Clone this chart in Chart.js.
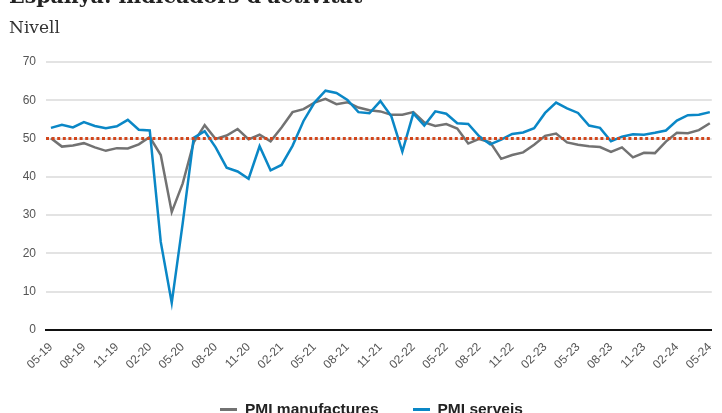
<!DOCTYPE html>
<html>
<head>
<meta charset="utf-8">
<script src="https://cdn.jsdelivr.net/npm/chart.js@4"></script>
<style>
  html, body { margin: 0; padding: 0; background: #fff; overflow: hidden; }
  #wrap { position: relative; width: 722px; height: 413px; overflow: hidden; }
  #title { position: absolute; left: 9px; top: -14px; font: bold 20.5px 'DejaVu Serif', serif; color: #222; line-height: 20px; white-space: nowrap; }
  #subtitle { position: absolute; left: 9px; top: 17px; font: 17px 'DejaVu Serif', serif; color: #333; line-height: 20px; }
  #chart-box { position: absolute; left: 0; top: 0; width: 722px; height: 413px; }
  #legend { position: absolute; left: 220px; top: 400px; white-space: nowrap; font: bold 15.5px 'Liberation Sans', Arial, sans-serif; color: #222; line-height: 18px; }
  #legend .item { display: inline-block; margin-right: 34px; }
  #legend .swatch { display: inline-block; width: 17px; height: 3px; margin-right: 8px; vertical-align: middle; }
</style>
</head>
<body>
<div id="wrap">
  <div id="chart-box"><canvas id="pmi-chart"></canvas></div>
  <div id="title">Espanya: indicadors d'activitat</div>
  <div id="subtitle">Nivell</div>
  <div id="legend"></div>
</div>
<script>
// months May 2019 .. May 2024
const months = [
  '05-19','06-19','07-19','08-19','09-19','10-19','11-19','12-19',
  '01-20','02-20','03-20','04-20','05-20','06-20','07-20','08-20','09-20','10-20','11-20','12-20',
  '01-21','02-21','03-21','04-21','05-21','06-21','07-21','08-21','09-21','10-21','11-21','12-21',
  '01-22','02-22','03-22','04-22','05-22','06-22','07-22','08-22','09-22','10-22','11-22','12-22',
  '01-23','02-23','03-23','04-23','05-23','06-23','07-23','08-23','09-23','10-23','11-23','12-23',
  '01-24','02-24','03-24','04-24','05-24'
];

const manufactures = [
  50.1, 47.9, 48.2, 48.8, 47.7, 46.8, 47.5, 47.4,
  48.5, 50.4, 45.7, 30.8, 38.3, 49.0, 53.5, 49.9, 50.8, 52.5, 49.8, 51.0,
  49.3, 52.9, 56.9, 57.7, 59.4, 60.4, 59.0, 59.5, 58.1, 57.4, 57.1, 56.2,
  56.2, 56.9, 54.2, 53.3, 53.8, 52.6, 48.7, 49.9, 49.0, 44.7, 45.7, 46.4,
  48.4, 50.7, 51.3, 49.0, 48.4, 48.0, 47.8, 46.5, 47.7, 45.1, 46.3, 46.2,
  49.2, 51.5, 51.4, 52.2, 54.0
];

const serveis = [
  52.8, 53.6, 52.9, 54.3, 53.3, 52.7, 53.2, 54.9,
  52.3, 52.1, 23.0, 7.1, 27.9, 50.2, 51.9, 47.7, 42.4, 41.4, 39.5, 48.0,
  41.7, 43.1, 48.1, 54.6, 59.4, 62.5, 61.9, 60.1, 56.9, 56.6, 59.8, 55.8,
  46.6, 56.6, 53.4, 57.1, 56.5, 54.0, 53.8, 50.6, 48.5, 49.7, 51.2, 51.6,
  52.7, 56.7, 59.4, 57.9, 56.7, 53.4, 52.8, 49.3, 50.5, 51.1, 51.0, 51.5,
  52.1, 54.7, 56.1, 56.2, 56.9
];

const threshold = 50;
const yTicks = [0, 10, 20, 30, 40, 50, 60, 70];

const X_MIN = -0.45;
const X_MAX = 60.18;

const toPoints = arr => arr.map((v, i) => ({ x: i, y: v }));

const ctx = document.getElementById('pmi-chart').getContext('2d');

const pmiChart = new Chart(ctx, {
  type: 'line',
  data: {
    datasets: [
      {
        label: 'PMI manufactures',
        data: toPoints(manufactures),
        borderColor: '#727272',
        backgroundColor: '#727272',
        borderWidth: 2.5,
        pointRadius: 0,
        tension: 0,
        order: 2,
      },
      {
        label: 'PMI serveis',
        data: toPoints(serveis),
        borderColor: '#0a87c6',
        backgroundColor: '#0a87c6',
        borderWidth: 2.5,
        pointRadius: 0,
        tension: 0,
        order: 1,
      },
      {
        label: 'llindar',
        data: [{ x: X_MIN, y: threshold }, { x: X_MAX, y: threshold }],
        borderColor: '#d2461c',
        borderWidth: 3,
        borderDash: [3, 2.6],
        pointRadius: 0,
        order: 0,
      },
    ],
  },
  options: {
    responsive: true,
    maintainAspectRatio: false,
    animation: false,
    layout: { padding: { top: 62, left: 0, right: 0, bottom: 0 } },
    plugins: {
      legend: { display: false },
      tooltip: { enabled: false },
    },
    scales: {
      x: {
        type: 'linear',
        min: X_MIN,
        max: X_MAX,
        afterFit(scale) { scale.height = 83; },
        ticks: {
          stepSize: 3,
          includeBounds: false,
          autoSkip: false,
          maxRotation: 45,
          minRotation: 45,
          padding: 2,
          color: '#555',
          font: { family: "'Liberation Sans', Arial, sans-serif", size: 12 },
          callback: v => months[v] || '',
        },
        grid: { display: false },
        border: { display: true, color: '#111', width: 2 },
      },
      y: {
        min: 0,
        max: 70,
        afterFit(scale) { scale.width = 46; },
        afterBuildTicks(scale) { scale.ticks = yTicks.map(v => ({ value: v })); },
        ticks: {
          padding: 10,
          color: '#555',
          font: { family: "'Liberation Sans', Arial, sans-serif", size: 12 },
        },
        grid: { color: '#e3e3e3', lineWidth: 2, drawTicks: false },
        border: { display: false },
      },
    },
  },
});

// HTML legend built from the series datasets
const legendEl = document.getElementById('legend');
pmiChart.data.datasets
  .filter(ds => ds.label !== 'llindar')
  .forEach(ds => {
    const item = document.createElement('span');
    item.className = 'item';
    const sw = document.createElement('span');
    sw.className = 'swatch';
    sw.style.background = ds.borderColor;
    item.appendChild(sw);
    item.appendChild(document.createTextNode(ds.label));
    legendEl.appendChild(item);
  });
</script>
</body>
</html>
